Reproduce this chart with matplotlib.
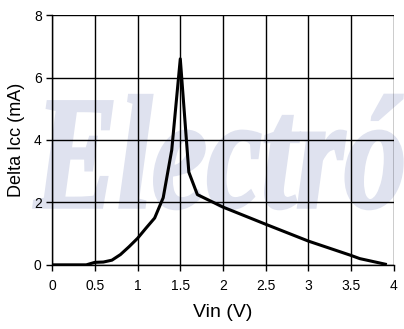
import matplotlib
matplotlib.use("Agg")
import matplotlib.pyplot as plt
from matplotlib.textpath import TextPath
from matplotlib.font_manager import FontProperties
from matplotlib.patches import PathPatch
from matplotlib.transforms import Affine2D, IdentityTransform

# Datos
vin = [0.0, 0.4, 0.5, 0.6, 0.7, 0.8, 0.9, 1.0, 1.1, 1.2, 1.3, 1.4, 1.5, 1.6, 1.7,
       2.0, 2.5, 3.0, 3.5, 3.6, 3.9]
delta_icc = [0.0, 0.0, 0.08, 0.09, 0.15, 0.33, 0.58, 0.85, 1.18, 1.5, 2.15, 3.68, 6.6,
             2.97, 2.25, 1.85, 1.3, 0.76, 0.3, 0.2, 0.02]
x_ticks = [0, 0.5, 1, 1.5, 2, 2.5, 3, 3.5, 4]
x_tick_labels = ["0", "0.5", "1", "1.5", "2", "2.5", "3", "3.5", "4"]
y_ticks = [0, 2, 4, 6, 8]
watermark = "Electró"

plt.rcParams['font.family'] = ['Liberation Sans', 'DejaVu Sans']

fig = plt.figure(figsize=(4.04, 3.29), dpi=100)
ax = fig.add_axes([0.129, 0.195, 0.846, 0.759])
ax.patch.set_alpha(0)

# marca de agua, estirada en vertical como en el original
fp = FontProperties(family='Liberation Serif', style='italic', weight='bold')
tp = TextPath((0, 0), watermark, size=100, prop=fp)
bb = tp.get_extents()
sx = 368 / bb.width
sy = 106 / 66.0
tr = Affine2D().translate(-bb.x0, 0).scale(sx, sy).translate(34, 122)
wm = PathPatch(tr.transform_path(tp), facecolor='#dfe2ef', edgecolor='#dfe2ef',
               lw=2.5, transform=IdentityTransform(), zorder=-1)
fig.patches.append(wm)

ax.plot(vin, delta_icc, color='black', lw=2.2, zorder=3)

ax.set_xlim(0, 4)
ax.set_ylim(0, 8)
ax.set_xticks(x_ticks)
ax.set_xticklabels(x_tick_labels)
ax.set_yticks(y_ticks)
ax.grid(True, color='black', lw=1)
for s in ['top', 'right']:
    ax.spines[s].set_visible(False)
ax.spines['left'].set_linewidth(1)
ax.spines['bottom'].set_linewidth(1)
ax.tick_params(axis='both', labelsize=10, length=4, width=1, direction='out')
ax.tick_params(axis='x', pad=6)
ax.set_xlabel("Vin (V)", fontsize=14, labelpad=8)
ax.set_ylabel("Delta Icc (mA)", fontsize=13, labelpad=6)

fig.savefig("out.png", dpi=100)
